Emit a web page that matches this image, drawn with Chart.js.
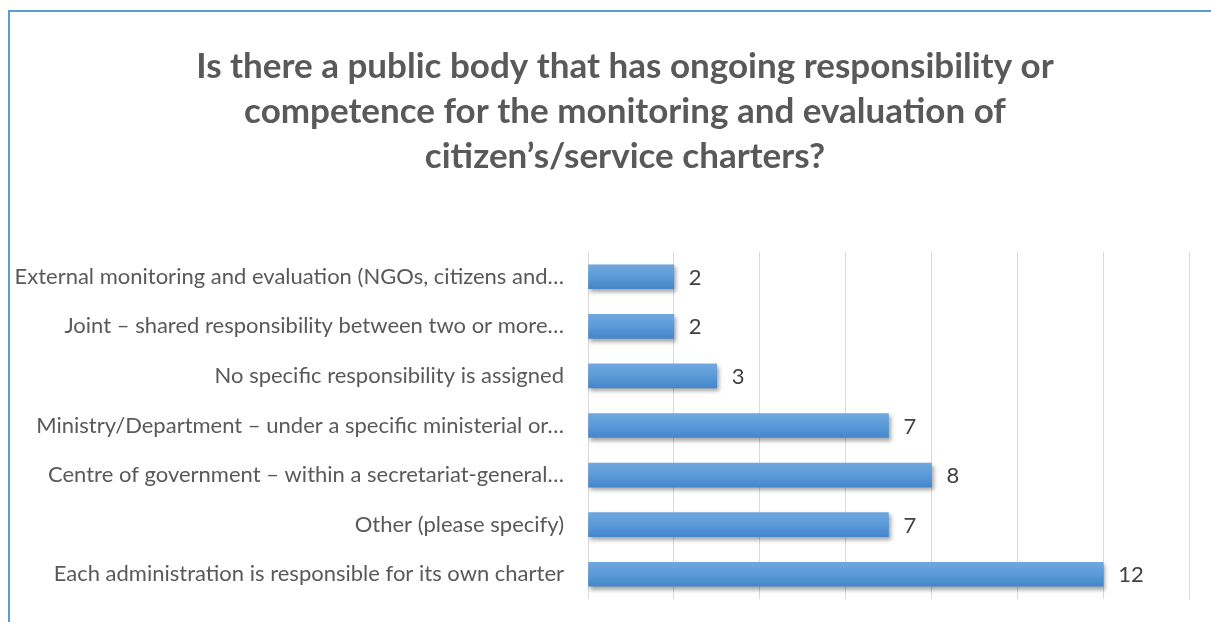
<!DOCTYPE html>
<html>
<head>
<meta charset="utf-8">
<script src="https://cdn.jsdelivr.net/npm/chart.js@4.4.1/dist/chart.umd.min.js"></script>
<style>
  html, body { margin: 0; padding: 0; background: #fff; overflow: hidden; }
  #wrap { position: relative; width: 1211px; height: 622px; overflow: hidden; }
  #frame {
    position: absolute; left: 8px; top: 10px; width: 1300px; height: 700px;
    border-left: 2px solid #5b9bd5; border-top: 2px solid #5b9bd5;
  }
  #box { position: absolute; left: 0; top: 0; width: 1211px; height: 622px; }
</style>
</head>
<body>
<div id="wrap">
  <div id="frame"></div>
  <div id="box"><canvas id="barChart" width="1211" height="622"></canvas></div>
</div>
<script>
var titleLines = [
  'Is there a public body that has ongoing responsibility or',
  'competence for the monitoring and evaluation of',
  'citizen\u2019s/service charters?'
];
var categories = [
  'External monitoring and evaluation (NGOs, citizens and\u2026',
  'Joint \u2013 shared responsibility between two or more\u2026',
  'No specific responsibility is assigned',
  'Ministry/Department \u2013 under a specific ministerial or\u2026',
  'Centre of government \u2013 within a secretariat-general\u2026',
  'Other (please specify)',
  'Each administration is responsible for its own charter'
];
var counts = [2, 2, 3, 7, 8, 7, 12];
var axisMax = 14;
var axisStep = 2;

var BAR_H = 24;
var TITLE_SHIFT = 61; // title is centred a bit right of the canvas middle

// gradient per bar, top lighter, bottom darker
function barFill(c) {
  var yScale = c.chart.scales.y;
  if (!yScale || c.dataIndex === undefined) return '#5b9bd5';
  var cy = yScale.getPixelForValue(c.dataIndex);
  if (!isFinite(cy)) return '#5b9bd5';
  var g = c.chart.ctx.createLinearGradient(0, cy - BAR_H / 2, 0, cy + BAR_H / 2);
  g.addColorStop(0, '#6fa8df');
  g.addColorStop(0.5, '#5b9bd9');
  g.addColorStop(1, '#4586cb');
  return g;
}

var barDecor = {
  id: 'barDecor',
  afterLayout: function(chart) {
    if (chart.titleBlock) chart.titleBlock.left += TITLE_SHIFT;
  },
  beforeDatasetsDraw: function(chart) {
    var ctx = chart.ctx;
    ctx.save();
    ctx.shadowColor = 'rgba(0,0,0,0.35)';
    ctx.shadowBlur = 4;
    ctx.shadowOffsetX = 2;
    ctx.shadowOffsetY = 3;
  },
  afterDatasetsDraw: function(chart) {
    var ctx = chart.ctx;
    ctx.restore();
    // value labels right of each bar
    var meta = chart.getDatasetMeta(0);
    ctx.save();
    ctx.font = '22px Lato';
    ctx.fillStyle = '#404040';
    ctx.textAlign = 'left';
    ctx.textBaseline = 'middle';
    meta.data.forEach(function(bar, i) {
      ctx.fillText(String(counts[i]), bar.x + 15, bar.y + 1);
    });
    ctx.restore();
  }
};

var ctx = document.getElementById('barChart');
new Chart(ctx, {
  type: 'bar',
  data: {
    labels: categories,
    datasets: [{
      data: counts,
      backgroundColor: barFill,
      borderWidth: 0,
      barThickness: BAR_H
    }]
  },
  options: {
    indexAxis: 'y',
    responsive: false,
    animation: false,
    maintainAspectRatio: false,
    layout: { padding: { left: 0, right: 22, top: 0, bottom: 23 } },
    plugins: {
      legend: { display: false },
      tooltip: { enabled: false },
      title: {
        display: true,
        text: titleLines,
        color: '#595959',
        font: { family: 'Lato', size: 35, weight: 'bold', lineHeight: '45px' },
        padding: { top: 44, bottom: 73 }
      }
    },
    scales: {
      x: {
        min: 0,
        max: axisMax,
        ticks: { display: false, stepSize: axisStep },
        grid: { color: '#d9d9d9', lineWidth: 1, drawTicks: false },
        border: { display: false }
      },
      y: {
        grid: { display: false },
        border: { display: false },
        ticks: {
          color: '#595959',
          padding: 16,
          font: { family: 'Lato', size: 22 }
        },
        afterFit: function(scale) {
          scale.width = 588;
          // labels sit inside their bands, no overhang room needed
          scale.paddingTop = 0;
          scale.paddingBottom = 0;
        }
      }
    }
  },
  plugins: [barDecor]
});
</script>
</body>
</html>
